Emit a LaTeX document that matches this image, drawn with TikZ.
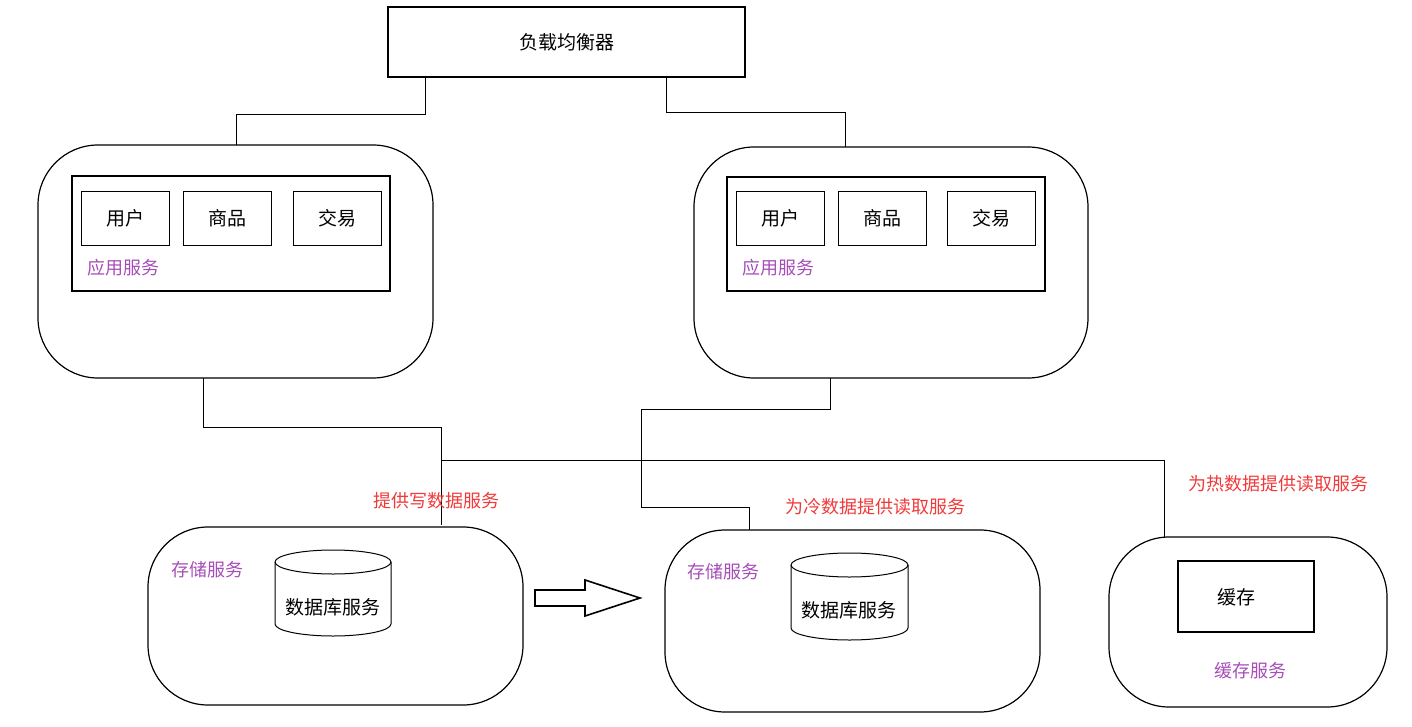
\documentclass[tikz,border=0pt]{standalone}
\usepackage{fontspec}
\setmainfont{Noto Sans CJK SC}
\definecolor{pur}{HTML}{A64DB8}
\definecolor{rd}{HTML}{F03A3A}
\begin{document}
\begin{tikzpicture}[x=0.5pt,y=-0.5pt,
  box/.style={draw,line width=0.9pt},
  thin/.style={draw,line width=0.5pt},
  rbox/.style={draw,line width=0.6pt,rounded corners=30pt},
  sm/.style={draw,line width=0.4pt,minimum width=44pt,minimum height=27pt,inner sep=0pt,font=\fontsize{9.5}{11}\selectfont},
  pl/.style={text=pur,font=\fontsize{9}{10}\selectfont},
  rl/.style={text=rd,font=\fontsize{9}{10}\selectfont},
  tx/.style={font=\fontsize{9.5}{11}\selectfont}]
\useasboundingbox (0,0) rectangle (1412,727);
\node[box,minimum width=178.5pt,minimum height=35pt,tx] (lb) at (566.5,42) {负载均衡器};
\draw[rbox] (38,145) rectangle (433,378);
\draw[rbox] (694,147) rectangle (1088,378);
\coordinate (a1t) at (236,145); \coordinate (a2t) at (845,147);
\draw[thin] (lb.south -| 425,0) |- (236,115) -- (a1t);
\draw[thin] (lb.south -| 666,0) |- (845,113) -- (a2t);
\draw[box] (72,176) rectangle (390,291);
\draw[box] (727,177) rectangle (1045,291);
\node[sm] (u1) at (125,218) {用户};
\node[sm] (g1) at (227,218) {商品};
\node[sm] (t1) at (337,218) {交易};
\node[sm] (u2) at (780,218) {用户};
\node[sm] (g2) at (882,218) {商品};
\node[sm] (t2) at (991,218) {交易};
\node[pl] (l1) at (123,268) {应用服务};
\node[pl] (l2) at (778,268) {应用服务};
\draw[rbox] (148,527) rectangle (523,705);
\draw[rbox] (665,530) rectangle (1040,712);
\draw[rbox] (1109,537) rectangle (1387,707);
\draw[thin] (203,378) |- (441,427) -- (441,525);
\draw[thin] (830,378) |- (641,409) |- (749,507) -- (749,530);
\draw[thin] (441,460) -| (1164,537);
\node[rl] (r1) at (436,501) {提供写数据服务};
\node[rl] (r2) at (875,507) {为冷数据提供读取服务};
\node[rl] (r3) at (1278,484) {为热数据提供读取服务};
\node[pl] (s1) at (207,570) {存储服务};
\node[pl] (s2) at (723,572) {存储服务};
% cylinders
\draw[thin,fill=white] (275,562) -- (275,624) arc[start angle=180,end angle=0,x radius=58,y radius=12] -- (391,562) arc[start angle=0,end angle=-180,x radius=58,y radius=12];
\draw[thin] (275,562) arc[start angle=180,end angle=0,x radius=58,y radius=12];
\node[tx] (d1) at (333,607) {数据库服务};
\draw[thin,fill=white] (791,565) -- (791,628) arc[start angle=180,end angle=0,x radius=58.5,y radius=12] -- (908,565) arc[start angle=0,end angle=-180,x radius=58.5,y radius=12];
\draw[thin] (791,565) arc[start angle=180,end angle=0,x radius=58.5,y radius=12];
\node[tx] (d2) at (849,610) {数据库服务};
\draw[line width=0.8pt] (535,590) -- (585,590) -- (585,580) -- (640,598) -- (585,616) -- (585,606) -- (535,606) -- cycle;
\draw[box] (1178,561) rectangle (1314,632);
\node[tx] (c) at (1236,597) {缓存};
\node[pl] (cs) at (1250,671) {缓存服务};
\end{tikzpicture}
\end{document}
